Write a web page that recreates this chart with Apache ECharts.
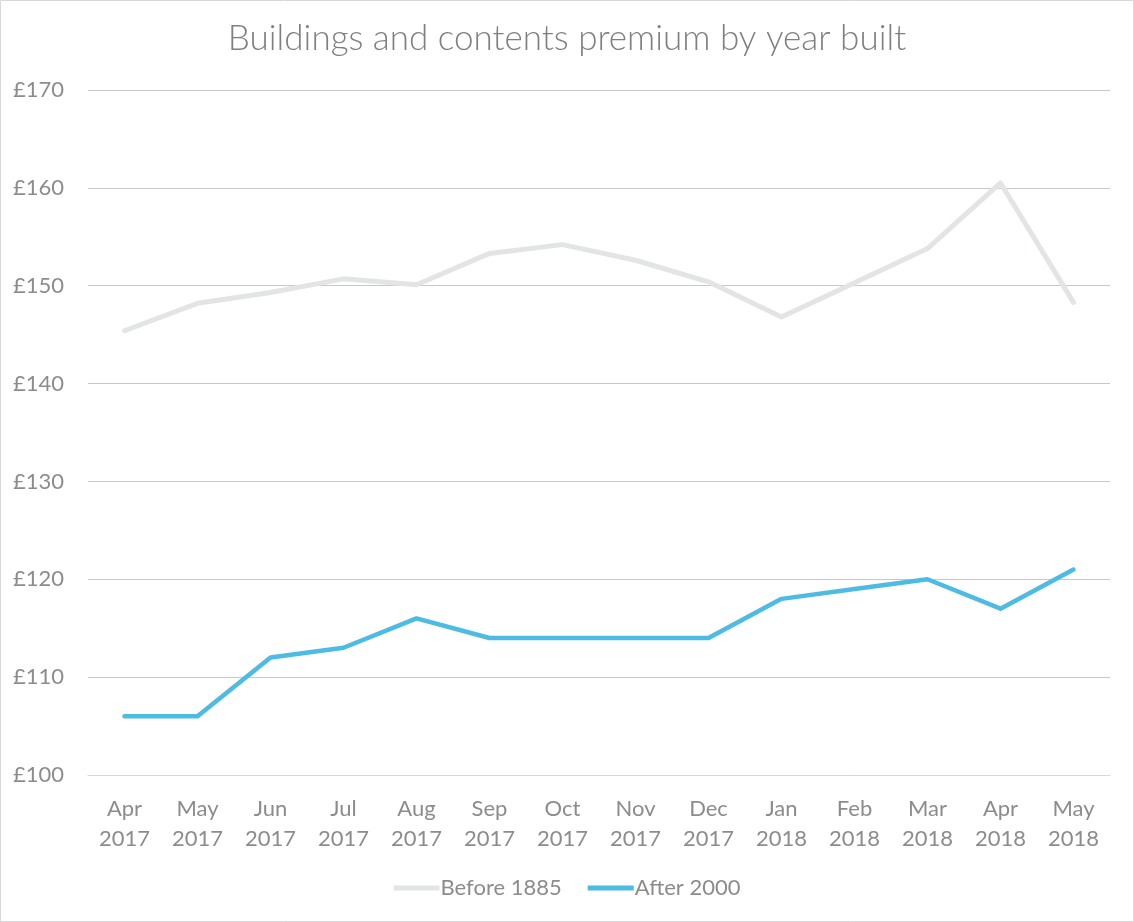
<!DOCTYPE html>
<html>
<head>
<meta charset="utf-8">
<script src="https://cdn.jsdelivr.net/npm/echarts@6/dist/echarts.min.js"></script>
<style>html,body{margin:0;padding:0;background:#fff}#c{width:1134px;height:922px}</style>
</head>
<body>
<div id="c"></div>
<script>
const categories = ["Apr\n2017","May\n2017","Jun\n2017","Jul\n2017","Aug\n2017","Sep\n2017","Oct\n2017","Nov\n2017","Dec\n2017","Jan\n2018","Feb\n2018","Mar\n2018","Apr\n2018","May\n2018"];
const before1885 = [145.4,148.2,149.3,150.7,150.1,153.3,154.2,152.6,150.4,146.8,150.3,153.8,160.5,148.3];
const after2000 = [106,106,112,113,116,114,114,114,114,118,119,120,117,121];
const seriesNames = ["Before 1885","After 2000"];

const chart = echarts.init(document.getElementById('c'), null, {renderer:'canvas'});
const font = "Lato, 'Open Sans', sans-serif";
chart.setOption({
  animation:false,
  backgroundColor:'#fff',
  title:{text:'Buildings and contents premium by year built',left:'center',top:16,
    textStyle:{fontFamily:font,fontWeight:300,fontSize:35,color:'#7f7f7f'}},
  graphic:[{type:'rect',shape:{x:0.5,y:0.5,width:1133,height:921},style:{fill:'none',stroke:'#d9d9d9',lineWidth:1},silent:true}],
  legend:{bottom:18,left:'center',itemWidth:46,itemHeight:5,itemGap:26,icon:'rect',
    textStyle:{fontFamily:font,fontSize:22,color:'#8c8c8c',padding:[0,0,0,-4]},
    data:seriesNames},
  grid:{left:88,right:24,top:90,bottom:147},
  xAxis:{type:'category',data:categories,boundaryGap:true,
    axisLine:{show:true,lineStyle:{color:'#d9d9d9'}},axisTick:{show:false},
    axisLabel:{fontFamily:font,fontSize:22,color:'#8c8c8c',lineHeight:30,margin:19}},
  yAxis:{type:'value',min:100,max:170,interval:10,
    axisLine:{show:false},axisTick:{show:false},
    splitLine:{lineStyle:{color:'#c8c8c8',width:1}},
    axisLabel:{fontFamily:font,fontSize:22,color:'#8c8c8c',margin:24,formatter:v=>'£'+v}},
  series:[
    {name:seriesNames[0],type:'line',data:before1885,symbol:'none',
      lineStyle:{width:5,color:'#e3e4e5',cap:'round',join:'round'},itemStyle:{color:'#e3e4e5'}},
    {name:seriesNames[1],type:'line',data:after2000,symbol:'none',
      lineStyle:{width:4.5,color:'#4dbbe3',cap:'round',join:'round'},itemStyle:{color:'#4dbbe3'}}
  ]
});
</script>
</body>
</html>
